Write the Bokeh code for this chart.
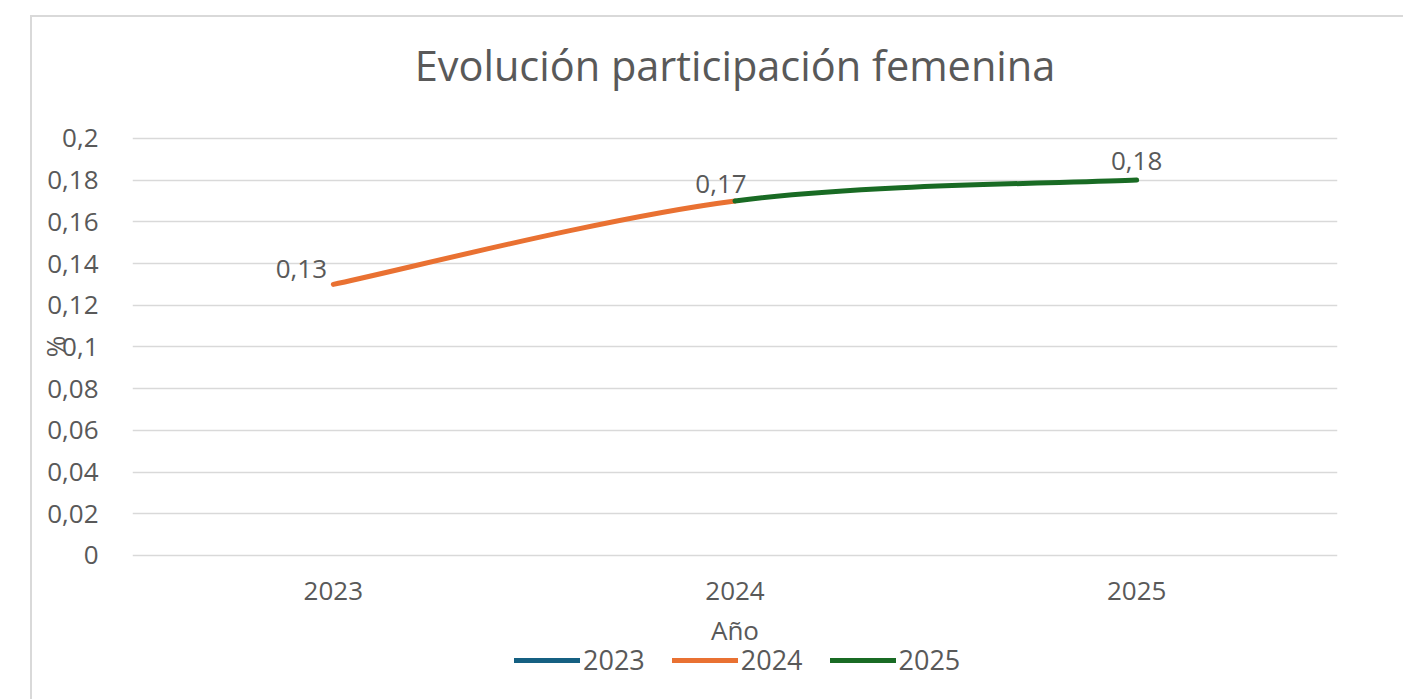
from bokeh.plotting import figure
from bokeh.models import Range1d, FixedTicker, Legend, LegendItem
from bokeh.core.properties import value
from bokeh.embed import file_html
from bokeh.resources import INLINE

# ---- data ----
years = ["2023", "2024", "2025"]
participation = [0.13, 0.17, 0.18]
series_names = ["2023", "2024", "2025"]
series_colors = ["#156082", "#E97132", "#196B24"]
y_ticks = [0, 0.02, 0.04, 0.06, 0.08, 0.1, 0.12, 0.14, 0.16, 0.18, 0.2]
y_tick_labels = ["0", "0,02", "0,04", "0,06", "0,08", "0,1", "0,12", "0,14", "0,16", "0,18", "0,2"]
title_text = "Evolución participación femenina"
x_title = "Año"
y_title = "%"

FONT = "Open Sans"
TXT = "#595959"
GRID = "#d9d9d9"
FS = "26px"

xs = list(range(len(years)))
y_top = y_ticks[-1]
y_zero = y_ticks[0]

border_css = ("linear-gradient(#d9d9d9,#d9d9d9) 30px 15px / 2px 100% no-repeat, "
              "linear-gradient(#d9d9d9,#d9d9d9) 30px 15px / 100% 2px no-repeat, white")

# plotting frame spans (almost) the whole canvas so titles/legend can sit inside it;
# only the 0..0.2 band carries ticks and gridlines
p = figure(width=1403, height=699, output_backend="svg", toolbar_location=None,
           x_range=Range1d(-0.5, 2.5), y_range=Range1d(-0.0643, 0.2647),
           x_axis_location=None,
           min_border_left=132, min_border_right=66, min_border_top=3,
           min_border_bottom=10,
           styles={"background": border_css})
p.outline_line_color = None
p.background_fill_alpha = 0
p.border_fill_alpha = 0

# y axis
p.yaxis.ticker = FixedTicker(ticks=y_ticks)
p.yaxis.major_label_overrides = {t: l for t, l in zip(y_ticks, y_tick_labels)}
p.yaxis.axis_line_color = None
p.yaxis.major_tick_line_color = None
p.yaxis.minor_tick_line_color = None
p.yaxis.major_label_text_font = FONT
p.yaxis.major_label_text_font_size = FS
p.yaxis.major_label_text_color = TXT
p.yaxis.major_label_standoff = 28
p.yaxis.axis_label = y_title
p.yaxis.axis_label_text_font = FONT
p.yaxis.axis_label_text_font_size = FS
p.yaxis.axis_label_text_color = TXT
p.yaxis.axis_label_text_font_style = "normal"
p.yaxis.axis_label_standoff = -29

p.xgrid.grid_line_color = None
p.ygrid.grid_line_color = GRID
p.ygrid.grid_line_width = 1.5

x_mid = (xs[0] + xs[-1]) / 2

# chart title
p.text(x=[x_mid], y=[y_top], text=[title_text], y_offset=-73,
       text_align="center", text_baseline="middle", text_font=value(FONT),
       text_font_size="41.5px", text_color=TXT)

# x category labels and x axis title (drawn under the zero line)
p.text(x=xs, y=[y_zero] * len(xs), text=years, y_offset=36,
       text_align="center", text_baseline="middle", text_font=value(FONT),
       text_font_size=FS, text_color=TXT)
p.text(x=[x_mid], y=[y_zero], text=[x_title], y_offset=75,
       text_align="center", text_baseline="middle", text_font=value(FONT),
       text_font_size=FS, text_color=TXT)

# "2023" series: a single point, so no visible segment
r2023 = p.line(x=[xs[0]], y=[participation[0]], line_color=series_colors[0],
               line_width=5, line_cap="round")
seg_renderers = [r2023]

# smoothed segments (Catmull-Rom style Bezier control points derived from data)
def ctrl(i):
    n = len(xs)
    a = max(i - 1, 0)
    b = min(i + 1, n - 1)
    return (xs[b] - xs[a]) / 6.0, (participation[b] - participation[a]) / 6.0

for seg in range(len(xs) - 1):
    i, j = seg, seg + 1
    dxi, dyi = ctrl(i)
    dxj, dyj = ctrl(j)
    r = p.bezier(x0=[xs[i]], y0=[participation[i]], x1=[xs[j]], y1=[participation[j]],
                 cx0=[xs[i] + dxi], cy0=[participation[i] + dyi],
                 cx1=[xs[j] - dxj], cy1=[participation[j] - dyj],
                 line_color=series_colors[j], line_width=5, line_cap="round")
    seg_renderers.append(r)

items = [LegendItem(label=n, renderers=[r]) for n, r in zip(series_names, seg_renderers)]
legend = Legend(items=items, orientation="horizontal", location=(382, 11),
                glyph_width=66, glyph_height=20, label_standoff=3, spacing=27,
                label_text_font=FONT, label_text_font_size="27px", label_text_color=TXT,
                border_line_color=None, background_fill_alpha=0, margin=0, padding=0)
p.add_layout(legend, "center")

# data labels
label_offsets = [(-32, -15), (-14, -17), (0, -19)]
for x, v, (dx, dy) in zip(xs, participation, label_offsets):
    p.text(x=[x], y=[v], text=[f"{v:g}".replace(".", ",")], x_offset=dx, y_offset=dy,
           text_align="center", text_baseline="middle", text_font=value(FONT),
           text_font_size=FS, text_color=TXT)

open("out.html", "w").write(file_html(p, INLINE))
